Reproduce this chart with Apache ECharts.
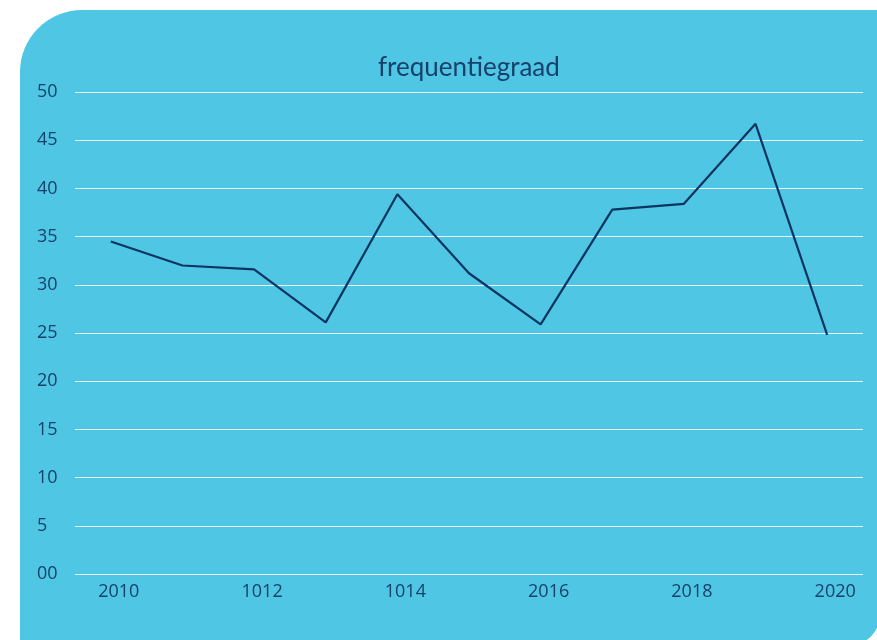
<!DOCTYPE html>
<html style="height: 100%">
<head>
    <meta charset="utf-8">
    <title>frequentiegraad</title>
    <script src="https://cdn.jsdelivr.net/npm/echarts/dist/echarts.min.js"></script>
</head>
<body style="height: 100%; margin: 0; background: #fff">
    <div id="main" style="width: 877px; height: 640px"></div>
    <script type="text/javascript">
        // jaren zoals ze op de as staan (tikfouten uit het origineel behouden)
        var years = ['2010', '2011', '1012', '2013', '1014', '2015', '2016', '2017', '2018', '2019', '2020'];
        var frequentie = [34.5, 32.0, 31.6, 26.1, 39.4, 31.2, 25.9, 37.8, 38.4, 46.7, 24.8];

        var navy = '#17406b';
        var myChart = echarts.init(document.getElementById('main'));

        var option = {
            backgroundColor: 'transparent',
            textStyle: { fontFamily: 'Open Sans' },
            graphic: [{
                type: 'rect',
                z: -10,
                shape: { x: 20, y: 10, width: 860, height: 635, r: [62, 0, 30, 0] },
                style: { fill: '#50c6e5' }
            }],
            title: {
                text: 'frequentiegraad',
                left: 373,
                top: 50,
                textStyle: { color: navy, fontSize: 26, fontWeight: 'normal', fontFamily: 'Lato' }
            },
            grid: { left: 75, right: 14, top: 92, bottom: 66 },
            xAxis: {
                type: 'category',
                data: years,
                axisLine: { show: false },
                axisTick: { show: false },
                axisLabel: {
                    color: navy,
                    fontSize: 18,
                    interval: 1,
                    margin: 9,
                    padding: [0, 0, 0, 16]
                }
            },
            yAxis: {
                type: 'value',
                min: 0,
                max: 50,
                interval: 5,
                axisLabel: {
                    color: navy,
                    fontSize: 18,
                    align: 'left',
                    margin: 38,
                    padding: [0, 0, 6, 0],
                    formatter: function (v) { return v === 0 ? '00' : v; }
                },
                splitLine: { lineStyle: { color: 'rgba(255,255,255,0.85)', width: 1 } }
            },
            series: [{
                type: 'line',
                data: frequentie,
                symbol: 'none',
                lineStyle: { color: '#0b3463', width: 2.2 }
            }]
        };

        myChart.setOption(option);
    </script>
</body>
</html>
